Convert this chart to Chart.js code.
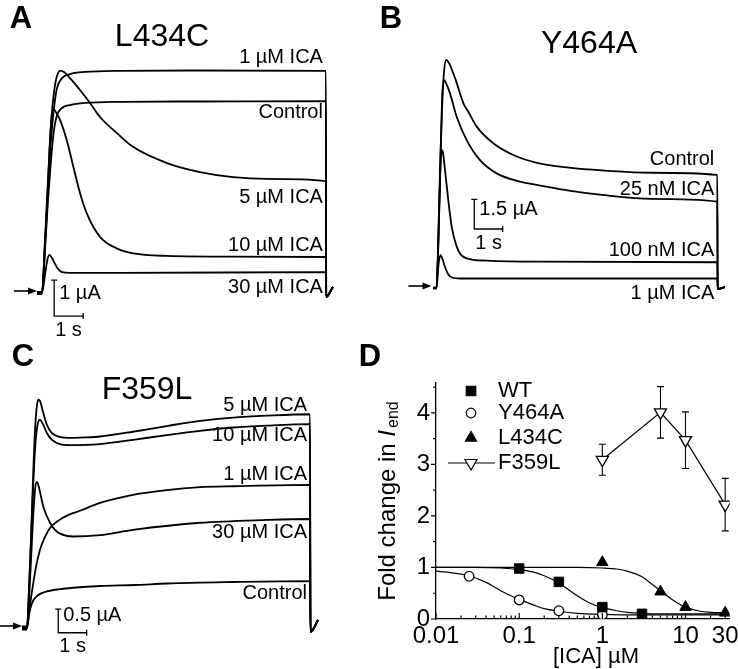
<!DOCTYPE html>
<html>
<head>
<meta charset="utf-8">
<script src="https://cdn.jsdelivr.net/npm/chart.js@4.4.1/dist/chart.umd.min.js"></script>
<style>
  body { margin: 0; background: #fff; }
  #wrap { position: relative; width: 738px; height: 669px; overflow: hidden; }
  canvas { position: absolute; }
</style>
</head>
<body>
<div id="wrap">
  <canvas id="chartA" width="369" height="340" style="left:0;top:0"></canvas>
  <canvas id="chartB" width="369" height="330" style="left:369px;top:0"></canvas>
  <canvas id="chartC" width="369" height="334" style="left:0;top:335px"></canvas>
  <canvas id="chartD" width="388" height="349" style="left:350px;top:320px"></canvas>
</div>
<script>
// ---- Panel A, L434C: time (s) / current (uA) ----
const labelsA = ['1 µM ICA', 'Control', '5 µM ICA', '10 µM ICA', '30 µM ICA'];
const tA_1uM = [-0.12, 0, 0.103, 0.207, 0.31, 0.414, 0.517, 0.69, 0.966, 1.483, 2.69, 5.45, 9.79, 9.8, 10.03];
const iA_1uM = [0, 0, 1.33, 2.86, 4.25, 5.14, 5.69, 5.97, 6.08, 6.14, 6.17, 6.18, 6.17, -0.11, 0.17];
const tA_ctrl = [-0.12, 0, 0.103, 0.207, 0.31, 0.414, 0.517, 0.69, 0.966, 1.483, 2.69, 5.45, 9.79, 9.8, 10.03];
const iA_ctrl = [0, 0, 1.19, 2.58, 3.69, 4.53, 4.94, 5.14, 5.22, 5.28, 5.31, 5.32, 5.33, -0.11, 0.17];
const tA_5uM = [-0.12, 0, 0.103, 0.207, 0.31, 0.414, 0.517, 0.621, 0.759, 0.966, 1.31, 1.655, 2.0, 2.586, 3.138, 4.31, 5.448, 6.586, 7.759, 9.79, 9.8, 10.03];
const iA_5uM = [0, 0, 1.47, 3.14, 4.67, 5.58, 6.03, 6.17, 6.14, 5.97, 5.64, 5.28, 4.89, 4.44, 4.06, 3.61, 3.36, 3.22, 3.17, 3.11, -0.11, 0.17];
const tA_10uM = [-0.12, 0, 0.103, 0.207, 0.276, 0.345, 0.397, 0.517, 0.621, 0.852, 1.079, 1.31, 1.541, 2.0, 2.576, 3.148, 4.31, 6.48, 9.79, 9.8, 10.03];
const iA_10uM = [0, 0, 1.33, 3.0, 4.25, 5.0, 5.11, 4.97, 4.81, 4.25, 3.51, 2.78, 2.22, 1.56, 1.24, 1.10, 1.03, 1.01, 1.0, -0.11, 0.17];
const tA_30uM = [-0.12, 0, 0.103, 0.19, 0.259, 0.345, 0.448, 0.552, 0.69, 0.966, 2.69, 9.79, 9.8, 10.03];
const iA_30uM = [0, 0, 0.5, 0.94, 1.06, 0.97, 0.81, 0.67, 0.58, 0.56, 0.56, 0.58, -0.11, 0.17];

// ---- Panel B, Y464A ----
const labelsB = ['Control', '25 nM ICA', '100 nM ICA', '1 µM ICA'];
const tB_ctrl = [-0.12, 0, 0.053, 0.123, 0.194, 0.264, 0.345, 0.44, 0.546, 0.676, 0.944, 1.144, 1.415, 2.0, 2.704, 3.574, 4.665, 5.827, 7.588, 9.887, 9.9, 10.15];
const iB_ctrl = [0, 0, 1.92, 5.96, 8.99, 10.91, 11.52, 11.36, 11.01, 10.51, 9.34, 8.84, 8.15, 7.31, 6.72, 6.31, 6.08, 5.94, 5.82, 5.71, -0.05, 0.05];
const tB_25nM = [-0.12, 0, 0.053, 0.123, 0.194, 0.264, 0.335, 0.475, 0.711, 1.063, 1.532, 2.12, 2.94, 3.574, 4.665, 5.827, 7.588, 9.887, 9.9, 10.15];
const iB_25nM = [0, 0, 1.67, 5.45, 9.49, 10.51, 10.35, 9.83, 8.65, 7.47, 6.46, 5.79, 5.37, 5.2, 4.92, 4.7, 4.5, 4.36, -0.05, 0.05];
const tB_100nM = [-0.12, 0, 0.053, 0.123, 0.183, 0.229, 0.299, 0.415, 0.535, 0.711, 0.863, 1.063, 1.768, 3.644, 9.887, 9.9, 10.15];
const iB_100nM = [0, 0, 1.67, 5.45, 6.97, 6.82, 5.96, 4.44, 3.09, 2.09, 1.67, 1.5, 1.38, 1.33, 1.30, -0.05, 0.05];
const tB_1uM = [-0.12, 0, 0.07, 0.141, 0.211, 0.299, 0.405, 0.546, 0.827, 9.887, 9.9, 10.15];
const iB_1uM = [0, 0, 1.16, 1.67, 1.46, 1.06, 0.71, 0.53, 0.48, 0.48, -0.05, 0.05];

// ---- Panel C, F359L ----
const labelsC = ['5 µM ICA', '10 µM ICA', '1 µM ICA', '30 µM ICA', 'Control'];
const tC_5uM = [-0.15, 0, 0.07, 0.141, 0.211, 0.282, 0.352, 0.398, 0.458, 0.563, 0.704, 0.88, 1.162, 1.514, 2.042, 2.57, 3.732, 4.919, 6.092, 7.254, 8.44, 9.965, 9.98, 10.25];
const iC_5uM = [0, 0, 0.8, 1.86, 3.12, 4.18, 4.7, 4.82, 4.79, 4.56, 4.28, 4.11, 4.03, 4.01, 4.02, 4.04, 4.14, 4.26, 4.37, 4.44, 4.48, 4.51, -0.08, 0.17];
const tC_10uM = [-0.15, 0, 0.07, 0.141, 0.211, 0.282, 0.37, 0.458, 0.563, 0.704, 0.88, 1.162, 1.514, 2.57, 3.732, 4.919, 6.092, 7.254, 8.44, 9.965, 9.98, 10.25];
const iC_10uM = [0, 0, 0.8, 1.86, 2.91, 3.76, 4.28, 4.39, 4.3, 4.11, 3.97, 3.88, 3.86, 3.88, 3.97, 4.07, 4.16, 4.23, 4.27, 4.3, -0.08, 0.17];
const tC_1uM = [-0.15, 0, 0.106, 0.211, 0.317, 0.458, 0.634, 0.81, 1.092, 1.444, 1.937, 2.57, 3.732, 4.919, 6.092, 7.254, 9.965, 9.98, 10.25];
const iC_1uM = [0, 0, 0.49, 0.91, 1.29, 1.65, 1.92, 2.11, 2.26, 2.38, 2.49, 2.64, 2.81, 2.91, 2.97, 2.99, 3.02, -0.08, 0.17];
const tC_30uM = [-0.15, 0, 0.07, 0.141, 0.211, 0.282, 0.335, 0.387, 0.458, 0.574, 0.81, 0.986, 1.162, 1.63, 2.57, 3.732, 6.092, 8.44, 9.965, 9.98, 10.25];
const iC_30uM = [0, 0, 0.59, 1.43, 2.28, 2.91, 3.08, 3.04, 2.87, 2.56, 2.22, 2.07, 1.99, 1.93, 1.96, 2.07, 2.22, 2.28, 2.3, -0.08, 0.17];
const tC_ctrl = [-0.15, 0, 0.053, 0.123, 0.211, 0.352, 0.634, 1.162, 1.972, 2.57, 3.803, 4.93, 7.254, 9.965, 9.98, 10.25];
const iC_ctrl = [0, 0, 0.21, 0.42, 0.57, 0.675, 0.76, 0.82, 0.865, 0.886, 0.907, 0.939, 0.97, 0.99, -0.08, 0.17];

// ---- Panel D, fold change in I_end vs [ICA] ----
const wtDose = [0.1, 0.3, 1, 3];
const wtFold = [0.98, 0.72, 0.23, 0.10];
const y464aDose = [0.025, 0.1, 0.3, 1];
const y464aFold = [0.83, 0.37, 0.16, 0.08];
const l434cDose = [1, 5, 10, 30];
const l434cFold = [1.10, 0.53, 0.23, 0.12];
const f359lDose = [1, 5, 10, 30];
const f359lFold = [3.09, 4.01, 3.47, 2.22];
const f359lSem = [0.30, 0.50, 0.55, 0.51];
// fitted curves
const wtFitX = [0.01, 0.03, 0.06, 0.1, 0.15, 0.2, 0.3, 0.4, 0.5, 0.7, 1, 1.5, 2, 3, 5, 10, 30];
const wtFitY = [1.0, 1.0, 0.99, 0.96, 0.91, 0.84, 0.70, 0.56, 0.45, 0.31, 0.22, 0.16, 0.13, 0.11, 0.10, 0.10, 0.10];
const y464aFitX = [0.01, 0.015, 0.02, 0.025, 0.04, 0.06, 0.08, 0.1, 0.15, 0.2, 0.3, 0.5, 1, 3, 30];
const y464aFitY = [0.93, 0.9, 0.87, 0.84, 0.71, 0.55, 0.45, 0.38, 0.27, 0.20, 0.15, 0.11, 0.09, 0.08, 0.08];
const l434cFitX = [0.01, 0.5, 1, 1.5, 2, 3, 4, 5, 6, 8, 10, 15, 20, 30];
const l434cFitY = [1.0, 1.0, 0.99, 0.97, 0.93, 0.82, 0.67, 0.55, 0.45, 0.31, 0.23, 0.15, 0.13, 0.12];
const xTickVals = [0.01, 0.1, 1, 10, 30];
const xTickLabels = ['0.01', '0.1', '1', '10', '30'];
const xMinorVals = [0.02, 0.03, 0.04, 0.05, 0.06, 0.07, 0.08, 0.09, 0.2, 0.3, 0.4, 0.5, 0.6, 0.7, 0.8, 0.9, 2, 3, 4, 5, 6, 7, 8, 9, 20];
const yTickVals = [0, 1, 2, 3, 4];
const yMinorVals = [0.5, 1.5, 2.5, 3.5, 4.5];

const FONT = '"Liberation Sans", Arial, Helvetica, sans-serif';
Chart.defaults.font.family = FONT;

function txt(ctx, s, x, y, size, align, style) {
  ctx.font = (style ? style + ' ' : '') + size + 'px ' + FONT;
  ctx.textAlign = align || 'left';
  ctx.textBaseline = 'middle';
  ctx.fillStyle = '#000';
  ctx.fillText(s, x, y);
}

const pts = (xs, ys) => xs.map((x, k) => ({ x: x, y: ys[k] }));

// draws letter, title, trace labels, scale bar and arrow for panels A-C
const tracePanel = {
  id: 'tracePanel',
  afterDatasetsDraw(chart, args, o) {
    const ctx = chart.ctx, xs = chart.scales.x, ys = chart.scales.y;
    ctx.save();
    txt(ctx, o.letter, o.letterXY[0], o.letterXY[1], 31, 'center', 'bold');
    txt(ctx, o.title, o.titleXY[0], o.titleXY[1], 32, 'center');
    chart.data.datasets.forEach((ds, i) => {
      const p = ds.data[ds.data.length - 3];
      txt(ctx, ds.label, xs.getPixelForValue(p.x) - 3, ys.getPixelForValue(p.y) + o.labelDy[i], 20, 'right');
    });
    // scale bar
    const x0 = xs.getPixelForValue(o.barT), y0 = ys.getPixelForValue(o.barI);
    const x1 = xs.getPixelForValue(o.barT + 1), y1 = ys.getPixelForValue(o.barI + o.barDI);
    ctx.strokeStyle = '#000';
    ctx.lineWidth = 1.3;
    ctx.beginPath();
    ctx.moveTo(x0, y1); ctx.lineTo(x0, y0); ctx.lineTo(x1, y0);
    ctx.moveTo(x0 - 3, y1); ctx.lineTo(x0 + 3, y1);
    ctx.moveTo(x1, y0 - 3); ctx.lineTo(x1, y0 + 3);
    ctx.stroke();
    txt(ctx, o.barLabel, x0 + 5, (y0 + y1) / 2 - 5, 20, 'left');
    txt(ctx, '1 s', x0 + 1, y0 + 14, 20, 'left');
    // baseline arrow and pre-pulse stub
    const bx = xs.getPixelForValue(0), by = ys.getPixelForValue(0);
    ctx.lineWidth = 1.6;
    ctx.beginPath(); ctx.moveTo(bx - 28, by - 2); ctx.lineTo(bx - 12, by - 2); ctx.stroke();
    ctx.beginPath(); ctx.moveTo(bx - 5, by - 2); ctx.lineTo(bx - 14, by - 5.5); ctx.lineTo(bx - 14, by + 1.5); ctx.closePath(); ctx.fill();
    ctx.fillRect(bx - o.stub[0], by - o.stub[1] / 2, o.stub[0], o.stub[1]);
    ctx.restore();
  }
};

function traceChart(id, traces, labels, p) {
  const el = document.getElementById(id);
  const w = el.width, h = el.height;
  return new Chart(el, {
    type: 'line',
    data: {
      datasets: traces.map((tr, k) => ({
        label: labels[k],
        data: pts(tr[0], tr[1]),
        borderColor: '#000',
        borderWidth: 1.8,
        pointRadius: 0,
        cubicInterpolationMode: 'monotone',
        fill: false
      }))
    },
    options: {
      responsive: false,
      animation: false,
      events: [],
      layout: { padding: 0 },
      scales: {
        x: { type: 'linear', display: false, min: -p.x0 / p.sx, max: (w - p.x0) / p.sx },
        y: { type: 'linear', display: false, min: -(h - p.y0) / p.sy, max: p.y0 / p.sy }
      },
      plugins: { legend: { display: false }, tooltip: { enabled: false }, tracePanel: p }
    },
    plugins: [tracePanel]
  });
}

traceChart('chartA',
  [[tA_1uM, iA_1uM], [tA_ctrl, iA_ctrl], [tA_5uM, iA_5uM], [tA_10uM, iA_10uM], [tA_30uM, iA_30uM]],
  labelsA,
  { x0: 42, sx: 29, y0: 293, sy: 36, letter: 'A', letterXY: [21, 19], title: 'L434C', titleXY: [162, 37],
    labelDy: [-13, 11, 16, -12, 15], barT: 0.42, barI: -0.64, barDI: 1, barLabel: '1 µA', stub: [5, 4] });

traceChart('chartB',
  [[tB_ctrl, iB_ctrl], [tB_25nM, iB_25nM], [tB_100nM, iB_100nM], [tB_1uM, iB_1uM]],
  labelsB,
  { x0: 67.5, sx: 28.4, y0: 288, sy: 19.8, letter: 'B', letterXY: [22, 19], title: 'Y464A', titleXY: [220, 44],
    labelDy: [-15, -12, -12, 15], barT: 1.33, barI: 2.98, barDI: 1.5, barLabel: '1.5 µA', stub: [3, 3] });

traceChart('chartC',
  [[tC_5uM, iC_5uM], [tC_10uM, iC_10uM], [tC_1uM, iC_1uM], [tC_30uM, iC_30uM], [tC_ctrl, iC_ctrl]],
  labelsC,
  { x0: 27, sx: 28.4, y0: 293, sy: 47.4, letter: 'C', letterXY: [23, 22], title: 'F359L', titleXY: [147, 55],
    labelDy: [-9, 11, -10, 14, 12], barT: 1.1, barI: -0.1, barDI: 0.5, barLabel: '0.5 µA', stub: [5, 5] });

// ---- Panel D ----
function markerPath(ctx, style, x, y, r) {
  ctx.beginPath();
  if (style === 'rect') {
    const s = r * Math.SQRT1_2;
    ctx.rect(x - s, y - s, 2 * s, 2 * s);
  } else if (style === 'circle') {
    ctx.arc(x, y, r, 0, Math.PI * 2);
  } else {
    const dir = style === 'down' ? -1 : 1;
    ctx.moveTo(x, y - dir * r);
    ctx.lineTo(x + r * 0.866, y + dir * r / 2);
    ctx.lineTo(x - r * 0.866, y + dir * r / 2);
    ctx.closePath();
  }
}

const dosePanel = {
  id: 'dosePanel',
  beforeDatasetsDraw(chart) {
    const ctx = chart.ctx, xs = chart.scales.x, ys = chart.scales.y;
    ctx.save();
    ctx.strokeStyle = '#000';
    ctx.lineWidth = 1.1;
    f359lDose.forEach((d, k) => {
      const x = xs.getPixelForValue(d);
      const yt = ys.getPixelForValue(f359lFold[k] + f359lSem[k]);
      const yb = ys.getPixelForValue(f359lFold[k] - f359lSem[k]);
      ctx.beginPath();
      ctx.moveTo(x, yt); ctx.lineTo(x, yb);
      ctx.moveTo(x - 3.5, yt); ctx.lineTo(x + 3.5, yt);
      ctx.moveTo(x - 3.5, yb); ctx.lineTo(x + 3.5, yb);
      ctx.stroke();
    });
    ctx.restore();
  },
  afterDraw(chart) {
    const ctx = chart.ctx, xs = chart.scales.x, ys = chart.scales.y, a = chart.chartArea;
    ctx.save();
    ctx.strokeStyle = '#000';
    ctx.fillStyle = '#000';
    ctx.lineWidth = 1.2;
    // tick marks
    ctx.beginPath();
    xTickVals.forEach(v => { const x = xs.getPixelForValue(v); ctx.moveTo(x, a.bottom); ctx.lineTo(x, a.bottom - 6); });
    xMinorVals.forEach(v => { const x = xs.getPixelForValue(v); ctx.moveTo(x, a.bottom); ctx.lineTo(x, a.bottom - 3.5); });
    yTickVals.forEach(v => { const y = ys.getPixelForValue(v); ctx.moveTo(a.left, y); ctx.lineTo(a.left - 5, y); });
    yMinorVals.forEach(v => { const y = ys.getPixelForValue(v); ctx.moveTo(a.left, y); ctx.lineTo(a.left - 3, y); });
    ctx.stroke();
    // tick labels
    xTickVals.forEach((v, k) => txt(ctx, xTickLabels[k], xs.getPixelForValue(v), a.bottom + 17, 24, 'center'));
    yTickVals.forEach(v => txt(ctx, String(v), a.left - 6, ys.getPixelForValue(v), 24, 'right'));
    // axis titles
    txt(ctx, '[ICA] µM', 246, 337, 22, 'center');
    ctx.save();
    ctx.translate(38, 181);
    ctx.rotate(-Math.PI / 2);
    ctx.font = '24px ' + FONT;
    const w1 = ctx.measureText('Fold change in ').width;
    ctx.font = 'italic 24px ' + FONT;
    const w2 = ctx.measureText('I').width;
    ctx.font = '16px ' + FONT;
    const w3 = ctx.measureText('end').width;
    let sx = -(w1 + w2 + 2 + w3) / 2;
    txt(ctx, 'Fold change in ', sx, 0, 24, 'left');
    txt(ctx, 'I', sx + w1, 0, 24, 'left', 'italic');
    txt(ctx, 'end', sx + w1 + w2 + 2, 6, 16, 'left');
    ctx.restore();
    // legend
    const rows = [
      ['WT', 'rect', 6.7, '#000', 71],
      ['Y464A', 'circle', 4.8, '#fff', 93],
      ['L434C', 'up', 6.5, '#000', 118],
      ['F359L', 'down', 7, '#fff', 143]
    ];
    rows.forEach(r => {
      const mx = 121, my = r[4];
      if (r[0] === 'F359L') {
        ctx.beginPath(); ctx.moveTo(98, my); ctx.lineTo(145, my); ctx.lineWidth = 1.2; ctx.stroke();
      }
      markerPath(ctx, r[1], mx, my, r[2]);
      ctx.fillStyle = r[3]; ctx.fill();
      ctx.lineWidth = 1.2; ctx.strokeStyle = '#000'; ctx.stroke();
      txt(ctx, r[0], 148, my, 22, 'left');
    });
    txt(ctx, 'D', 20, 37, 31, 'center', 'bold');
    ctx.restore();
  }
};

const fitLine = (xs, ys) => ({
  data: pts(xs, ys), borderColor: '#000', borderWidth: 1.2, pointRadius: 0,
  cubicInterpolationMode: 'monotone', fill: false
});

new Chart(document.getElementById('chartD'), {
  type: 'line',
  data: {
    datasets: [
      { label: 'WT', data: pts(wtDose, wtFold), showLine: false, pointStyle: 'rect', pointRadius: 6.7,
        pointBackgroundColor: '#000', pointBorderColor: '#000', pointBorderWidth: 1 },
      { label: 'Y464A', data: pts(y464aDose, y464aFold), showLine: false, pointStyle: 'circle', pointRadius: 4.8,
        pointBackgroundColor: '#fff', pointBorderColor: '#000', pointBorderWidth: 1.3 },
      { label: 'L434C', data: pts(l434cDose, l434cFold), showLine: false, pointStyle: 'triangle', pointRadius: 6.5,
        pointBackgroundColor: '#000', pointBorderColor: '#000', pointBorderWidth: 1 },
      { label: 'F359L', data: pts(f359lDose, f359lFold), showLine: true, tension: 0, borderColor: '#000', borderWidth: 1.2,
        pointStyle: 'triangle', pointRotation: 180, pointRadius: 7,
        pointBackgroundColor: '#fff', pointBorderColor: '#000', pointBorderWidth: 1.3 },
      fitLine(wtFitX, wtFitY),
      fitLine(y464aFitX, y464aFitY),
      fitLine(l434cFitX, l434cFitY)
    ]
  },
  options: {
    responsive: false,
    animation: false,
    events: [],
    layout: { padding: { top: 63, right: 6, left: 0, bottom: 0 } },
    scales: {
      x: {
        type: 'logarithmic', min: 0.01, max: 34,
        afterFit: s => { s.height = 50; s.paddingLeft = 0; s.paddingRight = 0; },
        grid: { display: false, drawTicks: false },
        border: { display: true, color: '#000', width: 1.3 },
        ticks: { display: false }
      },
      y: {
        type: 'linear', min: 0, max: 4.58,
        afterFit: s => { s.width = 86; s.paddingTop = 0; s.paddingBottom = 0; },
        grid: { display: false, drawTicks: false },
        border: { display: true, color: '#000', width: 1.3 },
        ticks: { display: false }
      }
    },
    plugins: { legend: { display: false }, tooltip: { enabled: false } }
  },
  plugins: [dosePanel]
});
</script>
</body>
</html>
